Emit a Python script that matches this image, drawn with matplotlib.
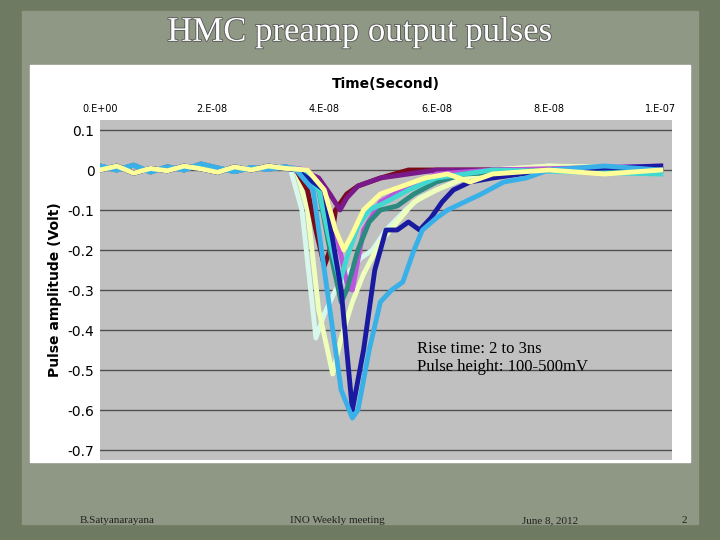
import matplotlib
matplotlib.use("Agg")
from matplotlib import pyplot as plt
import matplotlib.patheffects as pe

# time in ns, amplitude in volt
t_common = [0, 3, 6, 9, 12, 15, 18, 21, 24, 27, 30, 33]
base_a = [0.01, 0.0, 0.012, -0.005, 0.008, 0.0, 0.015, 0.005, -0.004, 0.006, 0.002, 0.008]
base_b = [0.0, 0.01, -0.008, 0.004, -0.002, 0.01, 0.003, -0.006, 0.008, 0.0, 0.01, 0.004]

t_sky = [35, 38, 41, 43, 45, 46, 48, 50, 52, 54, 56, 57.5, 60, 62, 65, 68, 72, 76, 80, 90, 100]
v_sky = [0.0, -0.05, -0.35, -0.55, -0.62, -0.6, -0.45, -0.33, -0.3, -0.28, -0.2, -0.15, -0.12, -0.1, -0.08, -0.06, -0.03, -0.02, 0.0, 0.01, 0.0]
t_navy = [35, 40, 43, 45, 47, 49, 51, 53, 55, 57, 59, 61, 63, 66, 70, 80, 100]
v_navy = [0.0, -0.05, -0.3, -0.6, -0.45, -0.25, -0.15, -0.15, -0.13, -0.15, -0.12, -0.08, -0.05, -0.03, -0.02, 0.0, 0.01]
t_pale = [35, 37, 39, 41.5, 43, 45, 47, 50, 53, 56, 60, 65, 70, 80, 100]
v_pale = [0.0, -0.1, -0.35, -0.51, -0.42, -0.33, -0.26, -0.18, -0.13, -0.08, -0.05, -0.02, 0.0, 0.01, 0.005]
t_mint = [34, 36, 38.5, 40, 42, 44.6, 46.5, 48.6, 51, 54.5, 57, 60, 65, 70, 80, 100]
v_mint = [0.0, -0.1, -0.42, -0.36, -0.3, -0.25, -0.22, -0.2, -0.15, -0.1, -0.07, -0.05, -0.02, 0.0, 0.01, 0.0]
t_teal = [36, 39, 41, 43, 44, 46, 48, 50, 53, 56, 60, 65, 80, 100]
v_teal = [0.0, -0.05, -0.2, -0.33, -0.3, -0.2, -0.13, -0.1, -0.09, -0.06, -0.03, -0.01, 0.0, 0.0]
t_cyan = [36, 39, 41, 42.8, 44, 46, 48, 51, 55, 60, 70, 100]
v_cyan = [0.0, -0.05, -0.18, -0.28, -0.22, -0.14, -0.1, -0.08, -0.05, -0.02, 0.0, -0.01]
t_violet = [37, 40, 42, 44, 45, 47, 50, 55, 60, 70, 100]
v_violet = [0.0, -0.05, -0.15, -0.28, -0.3, -0.15, -0.08, -0.04, -0.01, 0.0, 0.01]
t_red = [35, 37, 38.5, 40, 41, 42, 44, 46, 50, 55, 60, 70, 100]
v_red = [0.0, -0.05, -0.15, -0.24, -0.2, -0.1, -0.06, -0.04, -0.02, 0.0, 0.0, 0.0, 0.0]
t_purple = [36, 39, 41, 42.8, 44, 46, 50, 55, 60, 70, 100]
v_purple = [0.0, -0.02, -0.06, -0.1, -0.07, -0.04, -0.02, -0.01, 0.0, 0.0, 0.0]
t_yellow = [37, 40, 42, 43.5, 45, 47, 50, 54, 58, 62, 66, 70, 80, 90, 100]
v_yellow = [0.0, -0.05, -0.15, -0.2, -0.16, -0.1, -0.06, -0.04, -0.02, -0.01, -0.03, -0.01, 0.0, -0.01, 0.0]

series = [
    (t_mint, v_mint, "#d8f8ec", base_a),
    (t_pale, v_pale, "#eeffbb", base_b),
    (t_red, v_red, "#7a0a1a", base_a),
    (t_purple, v_purple, "#7a1a8a", base_b),
    (t_violet, v_violet, "#bb55dd", base_a),
    (t_teal, v_teal, "#2a8a80", base_b),
    (t_cyan, v_cyan, "#40d8d0", base_a),
    (t_navy, v_navy, "#1a1aa0", base_b),
    (t_sky, v_sky, "#3ab0e8", base_a),
    (t_yellow, v_yellow, "#ffff99", base_b),
]

x_ticks = [0, 20, 40, 60, 80, 100]
x_tick_labels = ["0.E+00", "2.E-08", "4.E-08", "6.E-08", "8.E-08", "1.E-07"]
y_ticks = [0.1, 0.0, -0.1, -0.2, -0.3, -0.4, -0.5, -0.6, -0.7]
y_tick_labels = ["0.1", "0", "-0.1", "-0.2", "-0.3", "-0.4", "-0.5", "-0.6", "-0.7"]

fig = plt.figure(figsize=(7.2, 5.4), dpi=100)
fig.patch.set_facecolor("#6f7a62")
fig.add_artist(plt.Rectangle((0.03, 0.03), 0.94, 0.95, transform=fig.transFigure,
                             color="#8e9884", zorder=0))
# white chart panel
fig.add_artist(plt.Rectangle((30 / 720, 78 / 540), 660 / 720, 397 / 540,
                             transform=fig.transFigure, color="white", zorder=1))

fig.text(0.5, 0.94, "HMC preamp output pulses", ha="center", va="center",
         fontsize=25, family="Liberation Serif", color="white",
         path_effects=[pe.withStroke(linewidth=1.2, foreground="#555555")])

ax = fig.add_axes([100 / 720, 80 / 540, 572 / 720, 340 / 540])
ax.set_zorder(2)
ax.set_facecolor("#c0c0c0")
for t, v, color, base in series:
    ax.plot(t_common + t, base + v, color=color, linewidth=3.5, solid_joinstyle="round")

ax.set_xlim(0, 102)
ax.set_ylim(-0.725, 0.125)
ax.set_yticks(y_ticks)
ax.set_yticklabels(y_tick_labels, fontsize=10)
ax.set_xticks(x_ticks)
ax.set_xticklabels(x_tick_labels, fontsize=7)
ax.xaxis.tick_top()
ax.xaxis.set_label_position("top")
ax.set_xlabel("Time(Second)", fontsize=10, fontweight="bold", labelpad=12)
ax.set_ylabel("Pulse amplitude (Volt)", fontsize=10, fontweight="bold")
ax.tick_params(length=0, pad=4)
ax.grid(axis="y", color="#505050", linewidth=1)
ax.set_axisbelow(True)
for s in ax.spines.values():
    s.set_visible(False)

ax.text(56.5, -0.47, "Rise time: 2 to 3ns\nPulse height: 100-500mV", fontsize=12,
        family="Liberation Serif", va="center", linespacing=1.1)

for x, label in [(80, "B.Satyanarayana"), (290, "INO Weekly meeting"), (522, "June 8, 2012"), (682, "2")]:
    fig.text(x / 720, 1 - 523 / 540, label, fontsize=8, family="Liberation Serif", color="#222222")

fig.savefig("out.png", dpi=100, facecolor=fig.get_facecolor())
